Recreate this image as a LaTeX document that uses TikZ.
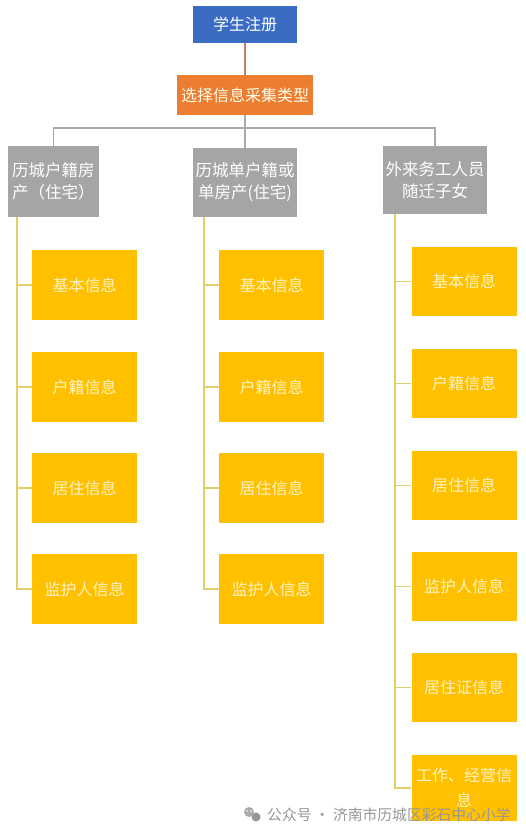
\documentclass[tikz,border=0pt]{standalone}
\usepackage{fontspec}
\setmainfont{Noto Sans CJK SC}
\usetikzlibrary{calc}
\definecolor{topblue}{RGB}{59,108,196}
\definecolor{selorange}{RGB}{237,125,49}
\definecolor{boxgray}{RGB}{165,165,165}
\definecolor{boxyellow}{RGB}{255,192,0}
\definecolor{yline}{RGB}{228,206,104}
\definecolor{gline}{RGB}{170,170,170}
\definecolor{bline}{RGB}{196,128,104}
\definecolor{ytext}{RGB}{255,243,196}
\definecolor{wmgray}{RGB}{150,150,150}
\begin{document}
\begin{tikzpicture}[x=1pt,y=-1pt,
  every node/.style={font=\fontsize{16}{22}\selectfont, inner sep=0pt},
  topbox/.style={fill=topblue, text=white, minimum width=104pt, minimum height=37pt},
  selbox/.style={fill=selorange, text=white!92!yellow, minimum width=136pt, minimum height=40pt},
  graybox/.style={fill=boxgray, text=white, align=center, minimum width=#1, minimum height=70pt, font=\fontsize{16.5}{22}\selectfont},
  yelbox/.style={fill=boxyellow, text=ytext, align=center, minimum width=105pt, minimum height=#1},
  yelbox/.default=70pt,
  ylink/.style={draw=yline, line width=1.6pt},
  glink/.style={draw=gline, line width=1.6pt},
  blink/.style={draw=bline, line width=1.6pt},
  wm/.style={font=\fontsize{14.8}{16}\selectfont, text=wmgray, anchor=west}
]
\useasboundingbox (0,0) rectangle (526,835);
\fill[white] (0,0) rectangle (526,835);

% top
\node[topbox] (reg) at (245,24.5) {学生注册};
\node[selbox] (sel) at (245,95) {选择信息采集类型};

% categories
\node[graybox=91pt, minimum height=71pt] (g1) at (53.5,181.5) {历城户籍房\\产（住宅）};
\node[graybox=104pt, minimum height=69pt] (g2) at (245,182.5) {历城单户籍或\\单房产(住宅)};
\node[graybox=104pt, minimum height=68pt] (g3) at (435,180) {外来务工人员\\随迁子女};

\coordinate (bus) at (245,128);
\draw[blink] (reg) -- (sel);
\draw[glink] (sel) -- (bus);
\draw[glink] (bus) -| (g1);
\draw[glink] (bus) -- (g2);
\draw[glink] (bus) -| (g3);

% left column
\node[yelbox] (a1) at (84.5,285) {基本信息};
\node[yelbox] (a2) at (84.5,387) {户籍信息};
\node[yelbox] (a3) at (84.5,488) {居住信息};
\node[yelbox] (a4) at (84.5,589) {监护人信息};
\coordinate (L1) at (17,217);
\foreach \c in {a1,a2,a3,a4} \draw[ylink] (L1) |- (\c.west);

% middle column
\node[yelbox] (b1) at (271.5,285) {基本信息};
\node[yelbox] (b2) at (271.5,387) {户籍信息};
\node[yelbox] (b3) at (271.5,488) {居住信息};
\node[yelbox] (b4) at (271.5,589) {监护人信息};
\coordinate (L2) at (204,217);
\foreach \c in {b1,b2,b3,b4} \draw[ylink] (L2) |- (\c.west);

% right column
\node[yelbox=69pt] (c1) at (464,281.5) {基本信息};
\node[yelbox=69pt] (c2) at (464,383.5) {户籍信息};
\node[yelbox=69pt] (c3) at (464,485.5) {居住信息};
\node[yelbox=69pt] (c4) at (464,586.5) {监护人信息};
\node[yelbox=69pt] (c5) at (464,687.5) {居住证信息};
\node[yelbox=66pt, font=\fontsize{16}{25}\selectfont] (c6) at (464,788) {工作、经营信\\息};
\coordinate (L3) at (395,214);
\foreach \c in {c1,c2,c3,c4,c5,c6} \draw[ylink] (L3) |- (\c.west);

% watermark
\fill[wmgray!80] (249,812) circle (5pt);
\fill[wmgray] (256,817) circle (4.5pt);
\fill[white] (247,811) circle (0.9pt) (251,811) circle (0.9pt);
\node[wm] (wmtext) at (267,815) {公众号 · 济南市历城区彩石中心小学};
\end{tikzpicture}
\end{document}
